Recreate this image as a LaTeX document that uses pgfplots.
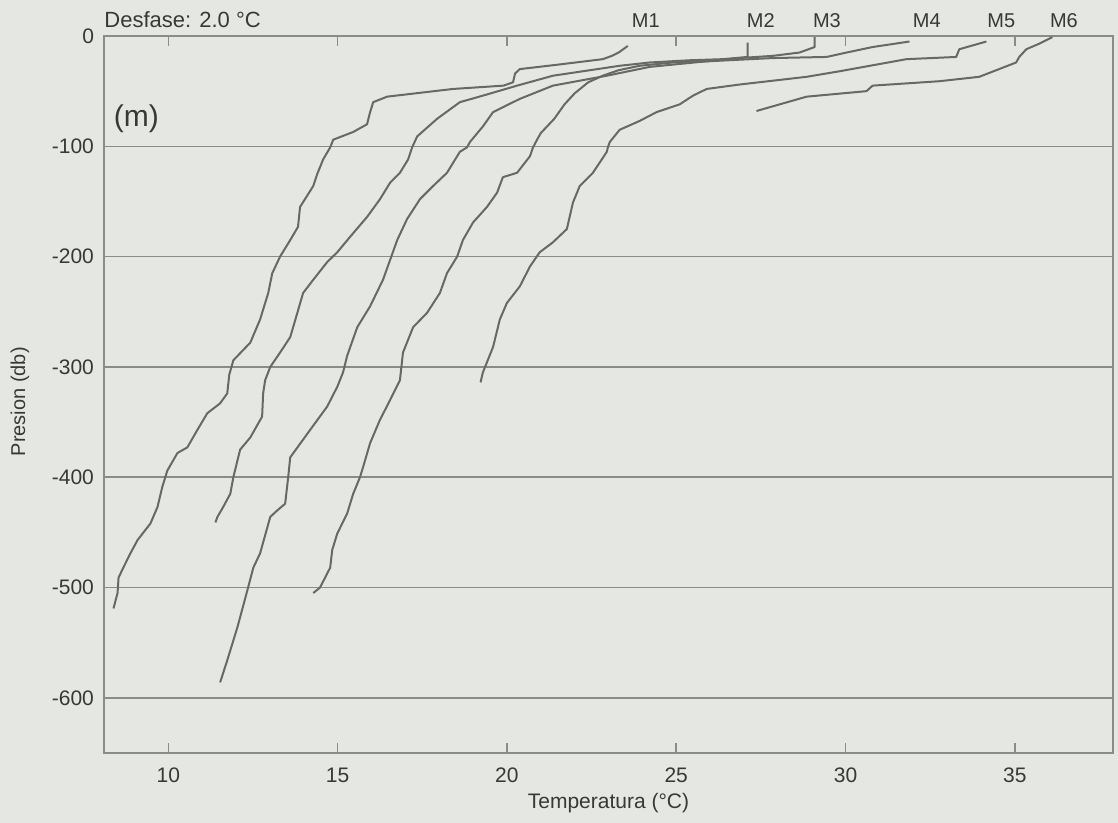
\documentclass[border=0pt]{standalone}
\usepackage{pgfplots}
\pgfplotsset{compat=1.18}
\usepackage{fontspec}
\setmainfont{Liberation Sans}
\definecolor{bg}{HTML}{E4E7E2}
\definecolor{ln}{HTML}{676967}
\definecolor{gr}{HTML}{8A8C8A}
\definecolor{tx}{HTML}{383838}
\pagecolor{bg}
\begin{document}
\begin{tikzpicture}
\path[use as bounding box] (-52pt,-35pt) rectangle (507pt,376.5pt);
\begin{axis}[
  at={(0,0)}, anchor=south west,
  scale only axis, width=504.5pt, height=358.5pt,
  xmin=8.1, xmax=37.9, ymin=-650, ymax=0,
  xtick={10,15,20,25,30,35},
  xticklabels={10,15,20,25,30,35},
  ytick={-600,-500,-400,-300,-200,-100,0},
  yticklabels={-600,-500,-400,-300,-200,-100,0},
  ymajorgrids,
  grid style={gr, line width=0.75pt},
  axis line style={gr, line width=0.9pt},
  tick align=inside,
  major tick length=5pt,
  y tick style={draw=none},
  x tick style={gr, line width=0.8pt},
  tick label style={font=\fontsize{10.5}{12}\selectfont, text=tx},
  xticklabel style={yshift=-4pt},
  yticklabel style={xshift=-1.5pt},
  xlabel={Temperatura (°C)},
  ylabel={Presion (db)},
  xlabel style={at={(axis description cs:0.5,-0.0698)}, anchor=center, font=\fontsize{10.5}{12}\selectfont, text=tx},
  ylabel style={at={(axis description cs:-0.0832,0.49)}, anchor=center, font=\fontsize{10}{12}\selectfont, text=tx},
  clip=false,
  prof/.style={ln, line width=1pt, line join=round, mark=none},
]
% M1
\addplot[prof] coordinates {(23.57,-9) (23.30,-15) (23.10,-18) (22.83,-21) (21.5,-26) (20.38,-30) (20.24,-34) (20.18,-42) (19.9,-45) (18.41,-48) (16.46,-55) (16.05,-60) (15.95,-70) (15.87,-80) (15.46,-87) (14.87,-94) (14.78,-101) (14.57,-112) (14.40,-125) (14.28,-136) (13.89,-155) (13.83,-173) (13.60,-185) (13.30,-200) (13.07,-215) (12.95,-233) (12.71,-257) (12.42,-278) (11.92,-294) (11.80,-307) (11.74,-324) (11.53,-333) (11.15,-342) (10.86,-357) (10.56,-373) (10.27,-378) (9.97,-394) (9.82,-409) (9.68,-427) (9.47,-442) (9.09,-457) (8.88,-469) (8.67,-482) (8.53,-491) (8.50,-505) (8.38,-519)};
% M2
\addplot[prof] coordinates {(27.11,-6) (27.11,-19) (26.37,-21) (25.40,-22) (24.22,-24) (23.33,-27) (21.36,-36) (20.30,-45) (19.41,-53) (18.61,-60) (17.94,-75) (17.35,-91) (17.20,-101) (17.08,-112) (16.84,-124) (16.55,-133) (16.25,-148) (15.87,-164) (15.37,-182) (14.99,-196) (14.69,-205) (14.28,-221) (13.98,-233) (13.81,-251) (13.60,-273) (13.30,-287) (13.01,-300) (12.86,-312) (12.80,-324) (12.77,-345) (12.42,-364) (12.12,-375) (12.04,-385) (11.92,-400) (11.83,-415) (11.62,-427) (11.45,-436) (11.39,-441)};
% M3
\addplot[prof] coordinates {(29.09,-1) (29.09,-10) (28.64,-15) (27.85,-18) (26.87,-20) (24.22,-28) (22.95,-36) (21.36,-45) (20.38,-57) (19.59,-69) (19.29,-82) (18.91,-96) (18.82,-101) (18.61,-105) (18.23,-124) (17.82,-136) (17.43,-148) (17.05,-166) (16.76,-185) (16.55,-203) (16.34,-221) (15.96,-245) (15.58,-264) (15.28,-290) (15.16,-305) (14.99,-318) (14.69,-336) (14.19,-357) (13.60,-382) (13.54,-400) (13.45,-424) (13.22,-430) (13.01,-436) (12.71,-469) (12.51,-482) (12.33,-503) (12.04,-536) (11.74,-566) (11.53,-586)};
% M4
\addplot[prof] coordinates {(31.89,-5) (30.80,-10) (30.03,-15) (29.44,-19) (27.85,-20) (25.90,-23) (24.90,-24) (23.92,-27) (23.30,-31) (22.83,-36) (22.40,-42) (22.00,-52) (21.70,-62) (21.40,-75) (21.00,-88) (20.89,-94) (20.77,-101) (20.68,-109) (20.30,-124) (19.88,-128) (19.71,-142) (19.41,-155) (19.00,-169) (18.70,-185) (18.53,-200) (18.23,-215) (18.02,-233) (17.64,-251) (17.23,-264) (16.93,-287) (16.84,-312) (16.55,-330) (16.25,-348) (15.96,-369) (15.75,-391) (15.66,-400) (15.46,-415) (15.28,-433) (14.99,-451) (14.84,-466) (14.78,-482) (14.48,-500) (14.28,-505)};
% M5
\addplot[prof] coordinates {(34.16,-5) (33.36,-12) (33.27,-19) (31.80,-21) (29.82,-32) (28.85,-37) (26.87,-44) (25.90,-48) (25.50,-54) (25.10,-62) (24.42,-69) (23.92,-77) (23.33,-85) (23.04,-96) (22.98,-101) (22.95,-105) (22.54,-124) (22.15,-136) (21.95,-151) (21.77,-175) (21.36,-187) (20.97,-196) (20.68,-209) (20.38,-227) (20.00,-242) (19.79,-257) (19.59,-282) (19.29,-305) (19.22,-314)};
% M6
\addplot[prof] coordinates {(36.11,-1) (35.72,-7) (35.34,-12) (35.13,-19) (35.04,-24) (33.95,-37) (32.77,-41) (30.80,-45) (30.62,-50) (28.85,-55) (27.37,-68)};
% labels
\node[anchor=base west, inner sep=0pt, font=\fontsize{11}{13}\selectfont, text=tx] at ([yshift=4pt]rel axis cs:0,1) {Desfase: 2.0 °C};
\node[anchor=west, inner sep=0pt, font=\fontsize{15}{18}\selectfont, text=tx] at (axis cs:8.38,-75) {(m)};
\node[anchor=base, inner sep=0pt, font=\fontsize{10}{12}\selectfont, text=tx] at ([yshift=4pt]axis cs:24.1,0) {M1};
\node[anchor=base, inner sep=0pt, font=\fontsize{10}{12}\selectfont, text=tx] at ([yshift=4pt]axis cs:27.5,0) {M2};
\node[anchor=base, inner sep=0pt, font=\fontsize{10}{12}\selectfont, text=tx] at ([yshift=4pt]axis cs:29.45,0) {M3};
\node[anchor=base, inner sep=0pt, font=\fontsize{10}{12}\selectfont, text=tx] at ([yshift=4pt]axis cs:32.4,0) {M4};
\node[anchor=base, inner sep=0pt, font=\fontsize{10}{12}\selectfont, text=tx] at ([yshift=4pt]axis cs:34.6,0) {M5};
\node[anchor=base, inner sep=0pt, font=\fontsize{10}{12}\selectfont, text=tx] at ([yshift=4pt]axis cs:36.45,0) {M6};
\end{axis}
\end{tikzpicture}
\end{document}
